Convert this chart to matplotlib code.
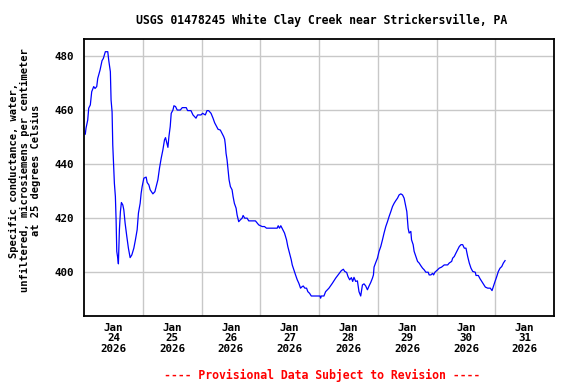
import matplotlib
matplotlib.use("Agg")
import matplotlib.pyplot as plt
import matplotlib.dates as mdates
import pandas as pd

# Hours after Jan 24 2026 00:00
hours = [
    0.53, 0.82, 1.52, 1.92, 2.58, 3.15, 3.97, 4.51, 5.20, 5.61, 6.55, 7.37,
    7.90, 8.72, 9.71, 10.12, 10.77, 11.06, 11.47, 11.75, 12.41, 12.82, 13.11,
    13.39, 13.80, 14.05, 14.46, 14.87, 15.28, 15.85, 16.26, 16.79, 17.49,
    18.14, 18.84, 19.54, 20.36, 21.01, 21.71, 22.24, 22.94, 23.34, 23.75,
    24.45, 25.39, 25.80, 26.50, 27.03, 28.14, 28.96, 29.49, 30.18, 30.84,
    31.54, 32.23, 32.89, 33.30, 33.87, 34.28, 34.69, 35.22, 35.63, 36.33,
    36.74, 37.39, 38.09, 39.32, 40.14, 41.78, 42.31, 43.70, 44.52, 45.75,
    46.40, 47.80, 48.45, 49.56, 50.25, 50.91, 51.89, 52.71, 53.37, 54.06,
    54.76, 55.70, 56.40, 57.05, 57.46, 57.75, 58.03, 58.44, 58.85, 59.26,
    59.80, 60.49, 60.90, 61.43, 62.13, 62.54, 63.20, 63.89, 64.59, 65.00,
    65.65, 66.64, 67.29, 70.03, 70.73, 71.39, 72.08, 72.78, 73.72, 74.54,
    78.92, 79.33, 79.86, 80.40, 81.22, 81.91, 82.73, 83.26, 83.96, 84.66,
    85.07, 85.72, 86.42, 87.11, 87.77, 88.46, 89.16, 89.57, 90.22, 90.92,
    91.45, 92.15, 92.85, 96.40, 96.66, 96.90, 98.01, 98.70, 100.06, 101.45,
    102.80, 104.15, 105.13, 105.95, 106.49, 107.31, 107.84, 108.53, 109.23,
    109.76, 110.29, 110.99, 111.69, 112.34, 113.04, 113.74, 114.39, 115.09,
    115.78, 116.44, 117.13, 117.83, 118.24, 118.49, 119.18, 119.88, 120.53,
    121.23, 121.93, 122.58, 123.28, 123.97, 124.63, 125.33, 126.02, 126.68,
    127.37, 128.07, 128.72, 129.42, 130.12, 130.77, 131.47, 131.88, 132.41,
    132.82, 133.52, 133.80, 134.46, 134.87, 135.56, 136.26, 136.91, 137.61,
    138.31, 138.96, 139.66, 140.60, 141.01, 141.71, 142.40, 142.81, 143.35,
    144.45, 145.11, 146.09, 147.16, 148.55, 149.20, 150.19, 150.60, 151.25,
    151.95, 152.65, 153.30, 154.00, 154.69, 155.35, 156.04, 156.74, 157.39,
    158.09, 158.79, 159.85, 160.14, 161.08, 161.78, 162.47, 163.13, 163.95,
    164.93, 165.99, 166.69, 167.22, 167.92, 168.61, 169.27, 169.96, 170.66,
    171.32, 172.01,
]

# Specific conductance, microsiemens per centimeter at 25 C
conductance = [
    451.1, 453.3, 456.3, 460.7, 461.9, 466.8, 468.7, 468.0, 468.7, 471.7,
    474.8, 478.3, 479.1, 481.6, 481.6, 478.3, 474.2, 463.7, 459.4, 447.1,
    432.9, 428.0, 419.4, 407.7, 405.2, 403.1, 415.7, 422.4, 425.8, 424.9,
    423.1, 418.2, 413.2, 408.9, 405.4, 406.4, 408.9, 412.0, 415.7, 421.9,
    425.5, 429.2, 431.7, 434.8, 435.2, 433.2, 432.3, 430.5, 429.0, 429.8,
    431.7, 434.2, 438.5, 442.2, 445.3, 449.0, 449.8, 447.7, 446.2, 450.2,
    453.9, 458.8, 460.0, 461.6, 461.3, 460.0, 460.0, 460.9, 460.9, 459.8,
    459.8, 458.2, 457.0, 458.2, 458.2, 458.8, 458.2, 459.8, 459.8, 458.8,
    457.0, 455.3, 454.1, 452.9, 452.6, 451.4, 450.2, 449.2, 447.1, 444.0,
    441.6, 437.9, 434.2, 431.7, 430.5, 428.0, 425.5, 423.7, 421.2, 418.7,
    419.4, 420.0, 421.0, 420.0, 420.0, 419.0, 419.0, 418.2, 417.5, 417.2,
    416.9, 416.9, 416.3, 416.3, 417.2, 416.3, 417.2, 415.7, 414.5, 412.0,
    409.5, 407.1, 404.6, 402.7, 400.9, 399.0, 397.2, 395.9, 394.1, 394.7,
    394.9, 394.1, 394.1, 392.8, 392.2, 391.2, 391.2, 390.4, 391.2, 391.2,
    392.8, 394.1, 395.9, 397.8, 399.4, 400.6, 401.1, 400.3, 399.9, 398.4,
    397.2, 398.0, 396.6, 398.1, 396.6, 396.8, 392.8, 391.2, 395.3, 395.7,
    394.9, 393.5, 394.9, 396.2, 397.8, 399.0, 401.9, 403.6, 405.2, 407.7,
    409.5, 412.0, 414.5, 416.9, 418.7, 420.6, 422.4, 424.3, 425.5, 426.5,
    427.4, 428.6, 429.0, 428.6, 427.4, 424.3, 422.4, 416.3, 414.5, 415.1,
    412.0, 410.2, 407.7, 405.8, 404.0, 403.4, 402.4, 401.5, 400.9, 400.0,
    400.0, 399.0, 399.0, 399.6, 399.0, 400.0, 400.9, 401.5, 401.9, 402.7,
    402.7, 403.4, 404.0, 405.2, 405.8, 407.1, 408.3, 409.5, 410.2, 410.2,
    408.9, 408.9, 405.8, 403.4, 401.5, 400.3, 400.0, 398.8, 398.8, 397.6,
    396.6, 395.7, 394.5, 394.1, 394.1, 393.2, 394.7, 396.6, 398.4, 400.3,
    401.5, 402.1, 403.4, 404.3,
]

start = pd.Timestamp("2026-01-24 00:00")
times = start + pd.to_timedelta(hours, unit="h")

day_labels = pd.date_range("2026-01-24 12:00", periods=8, freq="D")
day_edges = pd.date_range("2026-01-25 00:00", periods=7, freq="D")

title = "USGS 01478245 White Clay Creek near Strickersville, PA"
ylabel = ("Specific conductance, water,\n"
          "unfiltered, microsiemens per centimeter\n"
          "at 25 degrees Celsius")
footer = "---- Provisional Data Subject to Revision ----"

mono = "DejaVu Sans Mono"

fig = plt.figure(figsize=(5.76, 3.84), dpi=100)
ax = fig.add_axes([84 / 576, 1 - 316 / 384, 470 / 576, 277 / 384])

ax.plot(times, conductance, color="#0000FF", linewidth=0.9)

ax.set_xlim(start, start + pd.Timedelta(days=8))
ax.set_ylim(383.8, 486.3)
ax.set_yticks([400, 420, 440, 460, 480])

ax.set_xticks(day_labels)
ax.set_xticklabels([d.strftime("%b\n%d\n%Y") for d in day_labels])
ax.set_xticks(day_edges, minor=True)

ax.grid(False)
ax.grid(True, which="minor", axis="x", color="#c8c8c8", linewidth=1.0)
ax.grid(True, which="major", axis="y", color="#c8c8c8", linewidth=1.0)
ax.set_axisbelow(True)

ax.tick_params(axis="x", which="both", length=0, pad=5)
ax.tick_params(axis="y", length=0, pad=7)
for lab in ax.get_xticklabels() + ax.get_yticklabels():
    lab.set_fontfamily(mono)
    lab.set_fontweight("bold")
    lab.set_fontsize(7.8)
for lab in ax.get_xticklabels():
    lab.set_linespacing(1.05)

for side in ax.spines.values():
    side.set_color("black")
    side.set_linewidth(1.3)

fig.text(322 / 576, 1 - 20 / 384, title, ha="center", va="center",
         family=mono, fontweight="bold", fontsize=8.3)
fig.text(25 / 576, 1 - 170 / 384, ylabel, ha="center", va="center",
         rotation=90, family=mono, fontweight="bold", fontsize=7.5,
         linespacing=1.1)
fig.text(322 / 576, 1 - 375 / 384, footer, ha="center", va="center",
         family=mono, fontweight="bold", fontsize=8.3, color="red")

fig.savefig("out.png", dpi=100)
